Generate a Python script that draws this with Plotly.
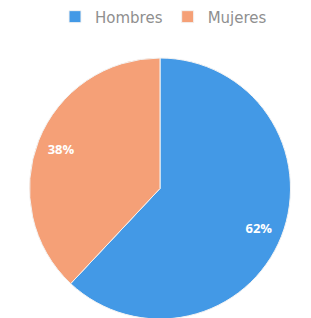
import plotly.graph_objects as go

labels = ["Hombres", "Mujeres"]
values = [62, 38]
colors = ["#4399e6", "#f5a077"]

fig = go.Figure()

fig.add_trace(go.Pie(
    labels=labels,
    values=values,
    sort=False,
    direction="clockwise",
    rotation=0,
    marker=dict(colors=colors, line=dict(color="#f3f3f3", width=1)),
    textinfo="none",
    hoverinfo="skip",
))

# label ring: same data, transparent, so percentages sit nearer the rim
fig.add_trace(go.Pie(
    labels=labels,
    values=values,
    sort=False,
    direction="clockwise",
    rotation=0,
    hole=0.63,
    marker=dict(colors=["rgba(0,0,0,0)"] * len(labels), line=dict(width=0)),
    textinfo="percent",
    texttemplate="%{percent:.0%}",
    textposition="inside",
    insidetextorientation="horizontal",
    textfont=dict(family="Open Sans", size=13, color="white", weight="bold"),
    showlegend=False,
    hoverinfo="skip",
))

fig.update_layout(
    width=311, height=318,
    margin=dict(t=50, b=7, l=21, r=28, autoexpand=False),
    paper_bgcolor="white",
    showlegend=True,
    legend=dict(
        orientation="h", x=0.5, xanchor="center", xref="container",
        y=0.972, yanchor="middle", yref="container",
        font=dict(family="DejaVu Sans", size=15, color="#8f8f8f"),
        itemwidth=30, traceorder="normal",
    ),
)

fig.write_html("out.html")
